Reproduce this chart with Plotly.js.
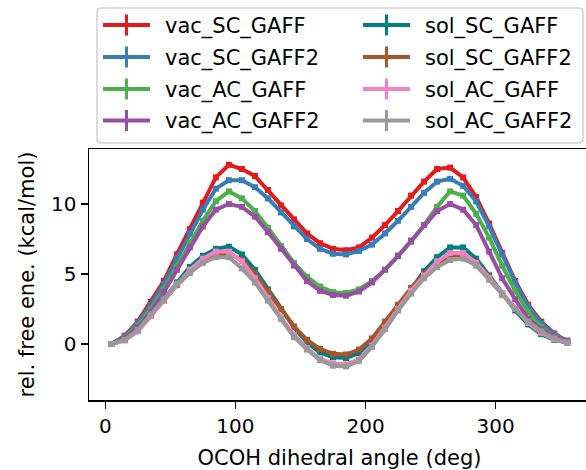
<!DOCTYPE html>
<html>
<head>
<meta charset="utf-8">
<script src="https://cdn.plot.ly/plotly-3.0.1.min.js"></script>
<style>
html, body { margin:0; padding:0; overflow:hidden; width:586px; height:470px; background:#fff; }
#chart { width:592px; height:470px; }
</style>
</head>
<body>
<div id="chart"></div>
<script>
// ---- data ----
const angles = [5,15,25,35,45,55,65,75,85,95,105,115,125,135,145,155,165,175,185,195,205,215,225,235,245,255,265,275,285,295,305,315,325,335,345,355];

const seriesNames = ["vac_SC_GAFF","vac_SC_GAFF2","vac_AC_GAFF","vac_AC_GAFF2","sol_SC_GAFF","sol_SC_GAFF2","sol_AC_GAFF","sol_AC_GAFF2"];

const vac_SC_GAFF  = [0,0.6,1.6,3.0,4.5,6.4,8.2,10.1,11.9,12.8,12.5,12.0,11.0,9.9,8.9,7.9,7.2,6.8,6.7,6.9,7.6,8.5,9.5,10.6,11.6,12.5,12.6,11.9,10.5,8.6,6.5,4.5,2.8,1.6,0.75,0.2];
const vac_SC_GAFF2 = [0,0.55,1.5,2.8,4.3,6.1,7.9,9.6,11.1,11.7,11.7,11.2,10.4,9.4,8.4,7.5,6.8,6.45,6.4,6.65,7.1,7.9,8.8,9.8,10.8,11.6,11.8,11.3,10.2,8.4,6.4,4.4,2.7,1.5,0.7,0.2];
const vac_AC_GAFF  = [0,0.5,1.3,2.5,3.9,5.5,7.2,8.8,10.2,10.9,10.4,9.5,8.3,7.0,5.8,4.8,4.1,3.7,3.65,3.9,4.5,5.3,6.3,7.3,8.5,9.8,10.9,10.6,9.3,7.6,5.6,3.8,2.3,1.2,0.55,0.2];
const vac_AC_GAFF2 = [0,0.45,1.2,2.3,3.7,5.3,6.9,8.4,9.6,10.0,9.8,9.1,8.0,6.8,5.6,4.5,3.8,3.5,3.45,3.75,4.4,5.3,6.3,7.4,8.5,9.5,10.0,9.6,8.5,6.6,4.7,3.2,1.8,1.05,0.55,0.25];
const sol_SC_GAFF  = [0,0.3,1.0,2.0,3.2,4.4,5.5,6.3,6.8,6.95,6.4,5.3,3.9,2.5,1.2,0.1,-0.6,-0.95,-1.0,-0.65,0.2,1.4,2.7,4.0,5.2,6.2,6.9,6.9,6.1,4.9,3.6,2.4,1.4,0.7,0.3,0.1];
const sol_SC_GAFF2 = [0,0.3,1.0,2.0,3.1,4.2,5.1,5.9,6.35,6.45,6.0,5.0,3.8,2.5,1.25,0.3,-0.35,-0.7,-0.75,-0.4,0.4,1.6,2.8,4.0,5.0,5.8,6.3,6.35,5.8,4.8,3.6,2.5,1.5,0.8,0.35,0.1];
const sol_AC_GAFF  = [0,0.25,0.9,2.0,3.1,4.3,5.3,6.1,6.6,6.6,5.9,4.7,3.3,1.9,0.65,-0.3,-1.05,-1.4,-1.45,-1.1,-0.1,1.15,2.5,3.8,4.9,5.9,6.5,6.5,5.8,4.7,3.6,2.5,1.5,0.8,0.35,0.1];
const sol_AC_GAFF2 = [0,0.3,1.0,2.1,3.2,4.3,5.1,5.8,6.2,6.2,5.4,4.4,3.1,1.8,0.5,-0.4,-1.15,-1.55,-1.6,-1.2,-0.2,1.05,2.4,3.6,4.7,5.5,6.0,6.1,5.6,4.6,3.5,2.5,1.6,0.9,0.4,0.1];

const seriesValues = [vac_SC_GAFF,vac_SC_GAFF2,vac_AC_GAFF,vac_AC_GAFF2,sol_SC_GAFF,sol_SC_GAFF2,sol_AC_GAFF,sol_AC_GAFF2];
const colors = ["#e41a1c","#377eb8","#4daf4a","#984ea3","#008080","#a65628","#f781bf","#999999"];

const xTicks = [0,100,200,300];
const yTicks = [0,5,10];

// ---- geometry (pixels) ----
const W = 592, H = 470;
const M = {l:89, r:2, t:149, b:70};
const pw = W - M.l - M.r, ph = H - M.t - M.b;
const px = x => (x - M.l) / pw;
const py = y => (H - M.b - y) / ph;

const FONT = "DejaVu Sans";

const traces = seriesValues.map((vals, i) => ({
  type: "scatter",
  mode: "lines+markers",
  x: angles,
  y: vals,
  name: seriesNames[i],
  line: {color: colors[i], width: 4},
  marker: {color: colors[i], size: 6, symbol: "square"},
  showlegend: false,
  hoverinfo: "skip"
}));

// custom matplotlib-like legend
const shapes = [];
const annotations = [];
(function(){
  const x0 = 97, x1 = 583, y0 = 8, y1 = 143, r = 5;
  const P = (x,y) => px(x) + "," + py(y);
  const path = "M" + P(x0+r,y0) + " L" + P(x1-r,y0) + " Q" + P(x1,y0) + " " + P(x1,y0+r) +
    " L" + P(x1,y1-r) + " Q" + P(x1,y1) + " " + P(x1-r,y1) +
    " L" + P(x0+r,y1) + " Q" + P(x0,y1) + " " + P(x0,y1-r) +
    " L" + P(x0,y0+r) + " Q" + P(x0,y0) + " " + P(x0+r,y0) + " Z";
  shapes.push({type:"path", xref:"paper", yref:"paper", path:path,
    line:{color:"rgba(204,204,204,0.9)", width:1.5}, fillcolor:"rgba(255,255,255,0.85)", layer:"above"});
})();
const rowY = [25, 57, 89, 120.5];
const colSym = [[103,150],[363,410]];
const colText = [165, 425];
seriesNames.forEach((nm, i) => {
  const c = Math.floor(i/4), r = i%4;
  const y = rowY[r];
  const [sx0, sx1] = colSym[c];
  const cx = (sx0+sx1)/2;
  shapes.push({type:"line", xref:"paper", yref:"paper", x0:px(sx0), x1:px(sx1), y0:py(y), y1:py(y),
    line:{color:colors[i], width:4}, layer:"above"});
  shapes.push({type:"line", xref:"paper", yref:"paper", x0:px(cx), x1:px(cx), y0:py(y-10.5), y1:py(y+10.5),
    line:{color:colors[i], width:3}, layer:"above"});
  annotations.push({xref:"paper", yref:"paper", x:px(colText[c]-2), y:py(y+1), xanchor:"left", yanchor:"middle",
    text:nm, showarrow:false, font:{family:FONT, size:21, color:"#000"}});
});

const axisCommon = {
  showgrid:false, zeroline:false, showline:true, linecolor:"#000", linewidth:1.5, mirror:true,
  ticks:"outside", ticklen:7, tickwidth:1.5, tickcolor:"#000",
  tickfont:{family:FONT, size:20, color:"#000"}
};

const layout = {
  width: W, height: H,
  margin: M,
  paper_bgcolor:"#fff", plot_bgcolor:"#fff",
  font:{family:FONT, color:"#000"},
  xaxis: Object.assign({}, axisCommon, {
    range:[-12.5, 372.5], tickmode:"array", tickvals:xTicks, ticktext:xTicks.map(String),
    title:{text:"OCOH dihedral angle (deg)", font:{family:FONT, size:21, color:"#000"}, standoff:18}
  }),
  yaxis: Object.assign({}, axisCommon, {
    range:[-4.0, 13.93], tickmode:"array", tickvals:yTicks, ticktext:yTicks.map(String),
    title:{text:"rel. free ene. (kcal/mol)", font:{family:FONT, size:21, color:"#000"}, standoff:10}
  }),
  shapes: shapes,
  annotations: annotations
};

Plotly.newPlot("chart", traces, layout, {staticPlot:true, displayModeBar:false});
</script>
</body>
</html>
